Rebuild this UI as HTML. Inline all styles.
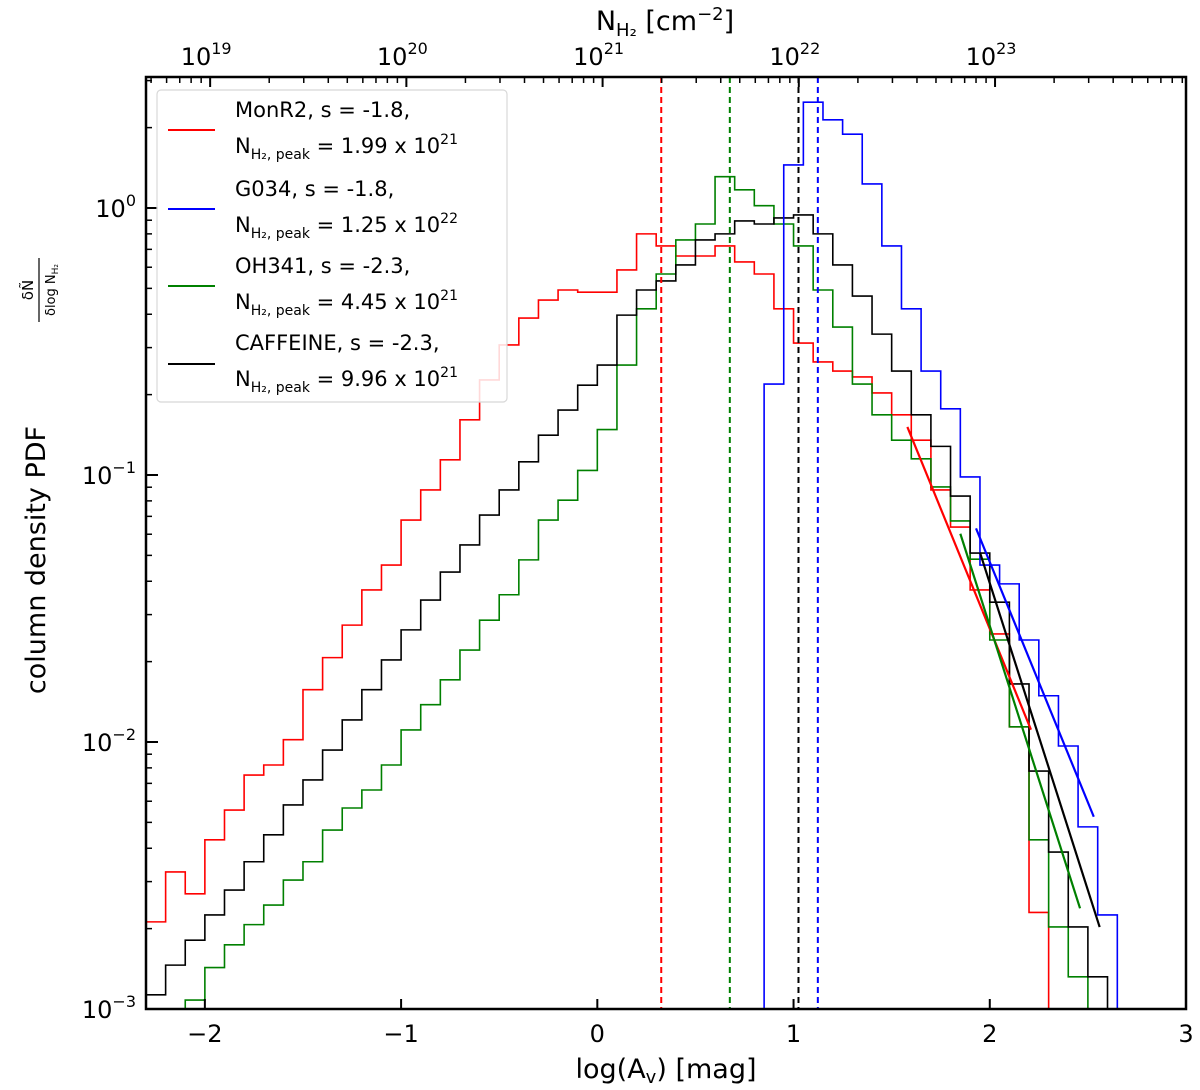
<!DOCTYPE html>
<html><head><meta charset="utf-8"><style>
body{margin:0;background:#fff}
svg{display:block;font-family:"DejaVu Sans","Liberation Sans",sans-serif}
</style></head><body>
<svg id="chart" width="1200" height="1090" viewBox="0 0 1200 1090" xmlns="http://www.w3.org/2000/svg">
<defs><clipPath id="plotclip"><rect x="146" y="77" width="1040" height="932"/></clipPath></defs>
<rect width="1200" height="1090" fill="#fff"/>
<g id="marks" clip-path="url(#plotclip)"></g>
<g id="axes"></g>
<g id="legend">
<rect x="157" y="90" width="350" height="312" rx="4" fill="#fff" fill-opacity="0.85" stroke="#d8d8d8" stroke-width="1.2"/>
<line x1="168" y1="130" x2="215" y2="130" stroke="#ff0000" stroke-width="2"/>
<text x="235" y="117" font-size="21">MonR2, s = -1.8,</text>
<text x="235" y="153" font-size="21">N<tspan font-size="14" dy="6">H₂, peak</tspan><tspan dy="-6"> = 1.99 x 10</tspan><tspan font-size="14" dy="-9">21</tspan></text>
<line x1="168" y1="209" x2="215" y2="209" stroke="#0000ff" stroke-width="2"/>
<text x="235" y="196" font-size="21">G034, s = -1.8,</text>
<text x="235" y="232" font-size="21">N<tspan font-size="14" dy="6">H₂, peak</tspan><tspan dy="-6"> = 1.25 x 10</tspan><tspan font-size="14" dy="-9">22</tspan></text>
<line x1="168" y1="286" x2="215" y2="286" stroke="#008000" stroke-width="2"/>
<text x="235" y="273" font-size="21">OH341, s = -2.3,</text>
<text x="235" y="309" font-size="21">N<tspan font-size="14" dy="6">H₂, peak</tspan><tspan dy="-6"> = 4.45 x 10</tspan><tspan font-size="14" dy="-9">21</tspan></text>
<line x1="168" y1="364" x2="215" y2="364" stroke="#000" stroke-width="2"/>
<text x="235" y="350" font-size="21">CAFFEINE, s = -2.3,</text>
<text x="235" y="386" font-size="21">N<tspan font-size="14" dy="6">H₂, peak</tspan><tspan dy="-6"> = 9.96 x 10</tspan><tspan font-size="14" dy="-9">21</tspan></text>
</g>
<text x="666" y="1078" font-size="27" text-anchor="middle">log(A<tspan font-size="18" dy="5">v</tspan><tspan dy="-5">) [mag]</tspan></text>
<text x="665" y="30" font-size="27" text-anchor="middle">N<tspan font-size="18" dy="6">H₂</tspan><tspan dy="-6"> [cm</tspan><tspan font-size="18" dy="-10">−2</tspan><tspan dy="10">]</tspan></text>
<g transform="translate(45,560) rotate(-90)">
<text x="0" y="0" font-size="27" text-anchor="middle">column density PDF</text>
<text x="270" y="-12" font-size="15" text-anchor="middle">δÑ</text>
<line x1="238" y1="-6" x2="302" y2="-6" stroke="#000" stroke-width="1.2"/>
<text x="270" y="10" font-size="13" text-anchor="middle">δlog N<tspan font-size="9" dy="3">H₂</tspan></text>
</g>
</svg>
<script>
const binWidth = 0.1;
const monr2Start = -2.3;
const monr2Values = [2.12e-3,3.26e-3,2.70e-3,4.30e-3,5.56e-3,7.52e-3,8.20e-3,1.02e-2,1.57e-2,2.07e-2,
 2.74e-2,3.71e-2,4.60e-2,6.78e-2,8.79e-2,0.114,0.161,0.227,0.307,0.387,
 0.452,0.493,0.484,
 0.484,0.586,0.80,0.721,0.661,0.661,0.721,0.628,0.566,0.419,
 0.312,0.265,0.245,0.233,0.203,0.168,0.135,0.0879,0.0638,0.0371,
 0.0254,0.0114,0.0023];
const g034Start = 0.85;
const g034Values = [0.219,1.45,2.49,2.14,1.89,1.23,0.721,0.419,0.245,0.177,0.0983,0.046,0.0391,0.0241,0.0149,0.00966,0.00481,0.00225];
const oh341Start = -2.1;
const oh341Values = [0.00108,0.00143,0.00174,0.00207,0.00245,0.00304,0.00356,0.00468,0.00566,0.00661,
 0.0082,0.0111,0.0138,0.0171,0.0221,0.0286,0.0356,0.0481,0.0678,0.0805,
 0.104,
 0.148,0.258,0.419,0.566,0.759,0.871,1.31,1.17,1.02,0.871,
 0.721,0.493,0.358,0.219,0.168,0.135,0.115,0.0902,0.0673,0.0484,
 0.0241,0.0114,0.0043,0.00203,0.00132];
const caffeineStart = -2.3;
const caffeineValues = [0.00113,0.00146,0.00181,0.00225,0.00279,0.00356,0.00449,0.00581,0.00721,0.00933,
 0.0121,0.0157,0.0203,0.0263,0.034,0.0433,0.0547,0.0708,0.0879,0.112,
 0.141,0.175,0.217,
 0.258,0.397,0.493,0.533,0.612,0.759,0.80,0.894,0.871,0.918,
 0.942,0.80,0.612,0.468,0.337,0.245,0.168,0.128,0.0834,0.051,
 0.0334,0.0165,0.00778,0.00387,0.00203,0.00132];
const peakNames = ["monr2","oh341","caffeine","g034"];
const peakColumnDensity = [1.99e21,4.45e21,9.96e21,1.25e22];
const fitNames = ["monr2","g034","oh341","caffeine"];
const fitSlopes = [-1.8,-1.8,-2.3,-2.3];
const fitXStart = [1.58,1.93,1.85,1.95];
const fitXEnd = [2.21,2.53,2.46,2.56];
const fitLogAnchor = [-0.82,-1.2,-1.22,-1.29];
const xTicks = [-2,-1,0,1,2,3];
const yTickExps = [-3,-2,-1,0];
const topTickExps = [19,20,21,22,23];
const avToNH = 9.4e20;

const NS="http://www.w3.org/2000/svg";
const L=146,R=1186,T=77,B=1009;
const xMin=-2.3,xMax=3.0,yLogMin=-3,yLogMax=0.4906;
const xs=v=>L+(v-xMin)/(xMax-xMin)*(R-L);
const ys=v=>B-(Math.log10(v)-yLogMin)/(yLogMax-yLogMin)*(B-T);
const ysLog=l=>B-(l-yLogMin)/(yLogMax-yLogMin)*(B-T);
const marks=document.getElementById('marks');
const axes=document.getElementById('axes');
function mk(tag,attrs,parent){const e=document.createElementNS(NS,tag);for(const k in attrs)e.setAttribute(k,attrs[k]);parent.appendChild(e);return e;}

const colors={monr2:"#ff0000",g034:"#0000ff",oh341:"#008000",caffeine:"#000000"};
function hist(name,start,vals){
  let d=`M${xs(start)},${B+5}`;
  vals.forEach((v,i)=>{d+=` V${ys(v)} H${xs(start+(i+1)*binWidth)}`;});
  d+=` V${B+5}`;
  const p=mk('path',{d:d,fill:'none',stroke:colors[name],'stroke-width':1.6},marks);
  
  
}
hist('monr2',monr2Start,monr2Values);
hist('oh341',oh341Start,oh341Values);
hist('caffeine',caffeineStart,caffeineValues);
hist('g034',g034Start,g034Values);

peakNames.forEach((n,i)=>{
  const x=xs(Math.log10(peakColumnDensity[i]/avToNH));
  const l=mk('line',{x1:x,y1:T,x2:x,y2:B,stroke:colors[n],'stroke-width':2,'stroke-dasharray':'6,4'},marks);
  
  
});
fitNames.forEach((n,i)=>{
  const x0=fitXStart[i],x1=fitXEnd[i];
  const l0=fitLogAnchor[i],l1=l0+fitSlopes[i]*(x1-x0);
  const l=mk('line',{x1:xs(x0),y1:ysLog(l0),x2:xs(x1),y2:ysLog(l1),stroke:colors[n],'stroke-width':2.2},marks);
  
  
});

const fr=mk('rect',{x:L,y:T,width:R-L,height:B-T,fill:'none',stroke:'#000','stroke-width':2.5},axes);


xTicks.forEach(t=>{
  const x=xs(t);
  mk('line',{x1:x,y1:B,x2:x,y2:B-10,stroke:'#000','stroke-width':2},axes);
  const tx=mk('text',{x:x,y:B+33,'font-size':24,'text-anchor':'middle'},axes);
  tx.textContent=(t<0?'−':'')+Math.abs(t);
  
  
});
yTickExps.forEach(e=>{
  const y=ysLog(e);
  mk('line',{x1:L,y1:y,x2:L+12,y2:y,stroke:'#000','stroke-width':2},axes);
  const tx=mk('text',{x:L-10,y:y+9,'font-size':24,'text-anchor':'end'},axes);
  
  
  tx.innerHTML='10<tspan font-size="16" dy="-11">'+(e<0?'−':'')+Math.abs(e)+'</tspan>';
  for(let k=2;k<=9;k++){const yy=ysLog(e+Math.log10(k));if(yy>T)mk('line',{x1:L,y1:yy,x2:L+6,y2:yy,stroke:'#000','stroke-width':1.5},axes);}
});
const off=Math.log10(avToNH);
for(let e=18;e<=23;e++){
  for(let k=1;k<=9;k++){
    const x=xs(e+Math.log10(k)-off);
    if(x<L||x>R)continue;
    mk('line',{x1:x,y1:T,x2:x,y2:T+(k===1?10:6),stroke:'#000','stroke-width':k===1?2:1.5},axes);
  }
}
topTickExps.forEach(e=>{
  const x=xs(e-off);
  const tx=mk('text',{x:x-4,y:T-12,'font-size':24,'text-anchor':'middle'},axes);
  
  
  tx.innerHTML='10<tspan font-size="16" dy="-11">'+e+'</tspan>';
});
</script>
</body></html>
